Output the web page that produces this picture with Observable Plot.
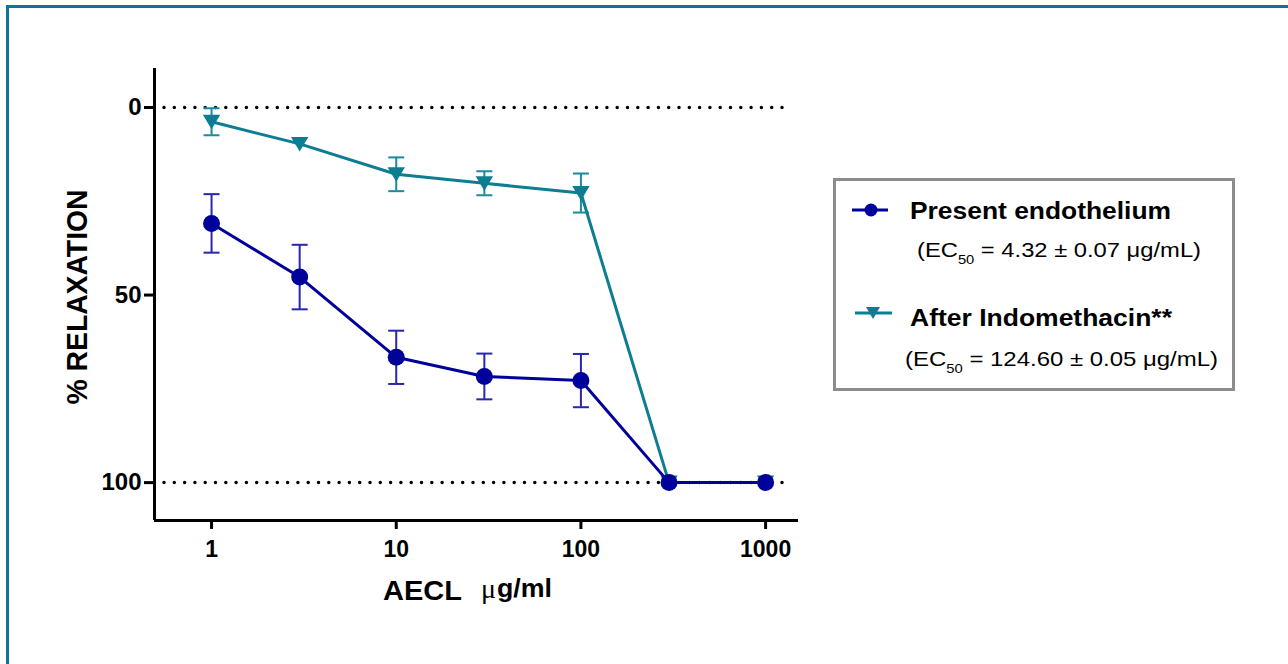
<!DOCTYPE html>
<html><head><meta charset="utf-8">
<script src="https://cdn.jsdelivr.net/npm/d3@7"></script>
<script src="https://cdn.jsdelivr.net/npm/@observablehq/plot@0.6"></script>
<style>
body{margin:0;background:#fff;font-family:"Liberation Sans",Arial,sans-serif;}
#wrap{position:relative;width:1288px;height:664px;overflow:hidden;background:#fff;}
#border{position:absolute;left:6px;top:5px;width:1300px;height:720px;border-left:3px solid #12719d;border-top:3px solid #12719d;box-sizing:border-box;}
#plot{position:absolute;left:0;top:0;}
#overlay{position:absolute;left:0;top:0;}
</style>
</head><body>
<div id="wrap"><div id="border"></div><div id="plot"></div>
<svg id="overlay" width="1288" height="664" xmlns="http://www.w3.org/2000/svg"></svg>
</div>
<script>
// ---- data ----
const conc = [1, 3, 10, 30, 100, 300, 1000];
const endoMean = [30.9, 45.2, 66.6, 71.7, 72.8, 100, 100];
const endoSem  = [7.8, 8.6, 7.1, 6.1, 7.1, 0, 0];
const indoMean = [3.8, 9.7, 17.8, 20.2, 22.8, 100, 100];
const indoSem  = [3.6, 0, 4.5, 3.2, 5.2, 0, 0];
const seriesNames = ["Present endothelium", "After Indomethacin**"];
const ec50Labels = ["4.32 ± 0.07 μg/mL", "124.60 ± 0.05 μg/mL"];
const xTicks = [1, 10, 100, 1000];
const yTicks = [0, 50, 100];
const refLines = [0, 100];
const xDomain = [0.491, 1507];
const yDomain = [110.1, -10.4];

const BLUE = "#00009a", BLUE_BAR = "#2626b0";
const TEAL = "#0d7d92", TEAL_BAR = "#1a8aa0";

function rowsFor(mean, sem) {
  return conc.map((c, i) => ({x: c, y: mean[i], lo: mean[i] - sem[i], hi: mean[i] + sem[i], sem: sem[i]}));
}
const endoRows = rowsFor(endoMean, endoSem);
const indoRows = rowsFor(indoMean, indoSem);

const capSymbol = {draw(ctx) { ctx.moveTo(-8, 0); ctx.lineTo(8, 0); }};
const triDown = {draw(ctx) { ctx.moveTo(-8.7, -7); ctx.lineTo(8.7, -7); ctx.lineTo(0, 7.5); ctx.closePath(); }};

function seriesMarks(rows, color, barColor, symbol, r) {
  const err = rows.filter(d => d.sem > 0);
  return [
    Plot.ruleX(err, {x: "x", y1: "lo", y2: "hi", stroke: barColor, strokeWidth: 2}),
    Plot.dot(err, {x: "x", y: "lo", symbol: capSymbol, stroke: barColor, fill: "none", strokeWidth: 2}),
    Plot.dot(err, {x: "x", y: "hi", symbol: capSymbol, stroke: barColor, fill: "none", strokeWidth: 2}),
    Plot.line(rows, {x: "x", y: "y", stroke: color, strokeWidth: 3}),
    Plot.dot(rows, {x: "x", y: "y", symbol, r, fill: color, stroke: "none"})
  ];
}

const chart = Plot.plot({
  width: 1288, height: 664,
  marginLeft: 154, marginRight: 490, marginTop: 68, marginBottom: 144,
  style: {fontFamily: "'Liberation Sans', Arial, sans-serif", fontSize: "23px", fontWeight: "bold", color: "#000", background: "transparent", overflow: "visible"},
  x: {type: "log", domain: xDomain, label: null},
  y: {domain: yDomain, label: null},
  marks: [
    Plot.ruleY(refLines, {stroke: "#000", strokeWidth: 3.5, strokeDasharray: "0,10.3", strokeLinecap: "round", insetLeft: 10, insetRight: 8}),
    ...seriesMarks(indoRows, TEAL, TEAL_BAR, triDown, 8),
    ...seriesMarks(endoRows, BLUE, BLUE_BAR, "circle", 8.5),
    Plot.ruleX([xDomain[0]], {stroke: "#000", strokeWidth: 3}),
    Plot.ruleY([yDomain[0]], {stroke: "#000", strokeWidth: 3}),
    Plot.axisX({ticks: xTicks, tickFormat: d => String(d), tickSize: 9, tickPadding: 11, strokeWidth: 3, fontSize: 23, fontWeight: "bold", label: null}),
    Plot.axisY({ticks: yTicks, tickFormat: d => String(d), tickSize: 10, tickPadding: 3, strokeWidth: 3, fontSize: 24, fontWeight: "bold", label: null})
  ]
});
document.getElementById("plot").appendChild(chart);

// ---- overlay: axis titles + legend ----
const ov = d3.select("#overlay");
const FONT = "'Liberation Sans', Arial, sans-serif";
ov.append("text").attr("transform", "translate(87,297) rotate(-90)")
  .attr("text-anchor", "middle").attr("font-family", FONT).attr("font-weight", "bold")
  .attr("font-size", 30).attr("textLength", 215).attr("lengthAdjust", "spacingAndGlyphs")
  .text("% RELAXATION");
ov.append("text").attr("x", 383).attr("y", 600).attr("font-family", FONT).attr("font-weight", "bold")
  .attr("font-size", 27).attr("textLength", 79).attr("lengthAdjust", "spacingAndGlyphs").text("AECL");
ov.append("text").attr("x", 481).attr("y", 598).attr("font-family", "'Liberation Serif', serif")
  .attr("font-size", 28).text("μ");
ov.append("text").attr("x", 497).attr("y", 597).attr("font-family", FONT).attr("font-weight", "bold")
  .attr("font-size", 26).attr("textLength", 55).attr("lengthAdjust", "spacingAndGlyphs").text("g/ml");

// legend box
ov.append("rect").attr("x", 834.5).attr("y", 179.5).attr("width", 399).attr("height", 210)
  .attr("fill", "#fff").attr("stroke", "#8c8c8c").attr("stroke-width", 3);
// swatches
ov.append("line").attr("x1", 852).attr("x2", 888).attr("y1", 210).attr("y2", 210).attr("stroke", BLUE).attr("stroke-width", 3);
ov.append("circle").attr("cx", 871).attr("cy", 210).attr("r", 6.5).attr("fill", BLUE);
ov.append("line").attr("x1", 855).attr("x2", 892).attr("y1", 313).attr("y2", 313).attr("stroke", TEAL).attr("stroke-width", 3);
ov.append("path").attr("d", "M866,307 L880,307 L873,319 Z").attr("fill", TEAL);

const legendRows = [
  {name: seriesNames[0], nx: 910, ny: 219, nw: 261, ex: 917, ey: 257, ew: 284, ec: ec50Labels[0]},
  {name: seriesNames[1], nx: 910, ny: 326, nw: 262, ex: 905, ey: 366, ew: 313, ec: ec50Labels[1]}
];
legendRows.forEach(r => {
  ov.append("text").attr("x", r.nx).attr("y", r.ny).attr("font-family", FONT).attr("font-weight", "bold")
    .attr("font-size", 23).attr("textLength", r.nw).attr("lengthAdjust", "spacingAndGlyphs").text(r.name);
  const t = ov.append("text").attr("x", r.ex).attr("y", r.ey).attr("font-family", FONT)
    .attr("font-size", 21).attr("textLength", r.ew).attr("lengthAdjust", "spacingAndGlyphs");
  t.append("tspan").text("(EC");
  t.append("tspan").attr("font-size", 13).attr("dy", 7).text("50");
  t.append("tspan").attr("dy", -7).text(" = " + r.ec + ")");
});
</script>
</body></html>
